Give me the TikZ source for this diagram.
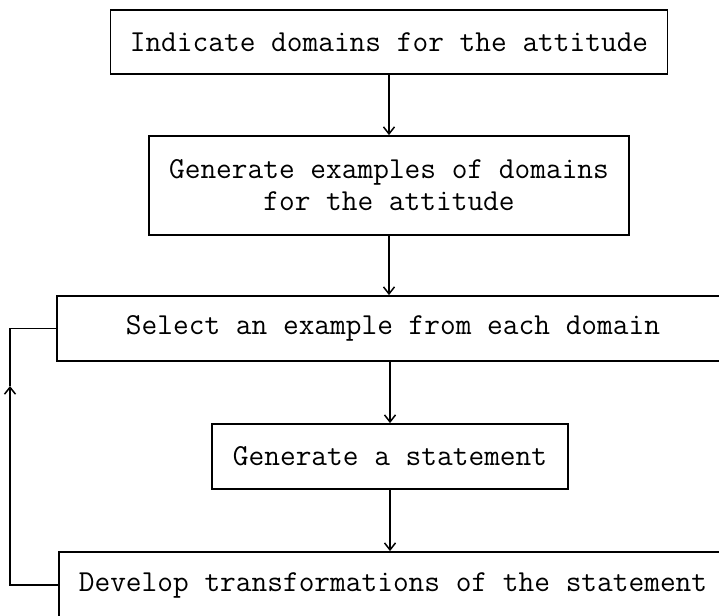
\documentclass[tikz,border=0pt]{standalone}
\usetikzlibrary{arrows.meta}
\begin{document}
\begin{tikzpicture}[x=1pt,y=1pt,
  box/.style={draw, line width=1.8pt, inner sep=0pt, align=center,
    font=\fontsize{30.5}{32}\selectfont\ttfamily},
  arr/.style={line width=1.8pt, -{Straight Barb[length=7pt,width=11pt,line width=1.5pt]}},
  wire/.style={line width=1.8pt}]
\useasboundingbox (0,0) rectangle (719,-615);
\clip (0,0) rectangle (719,-615);
\node[box, minimum width=557, minimum height=64] (b1) at (389,-42) {Indicate domains for the attitude};
\node[box, minimum width=480, minimum height=99] (b2) at (389,-185.5) {Generate examples of domains\\for the attitude};
\node[box, minimum width=672, minimum height=65] (b3) at (393,-328.5) {Select an example from each domain};
\node[box, minimum width=356, minimum height=65] (b4) at (390,-456.5) {Generate a statement};
\node[box, minimum width=668, minimum height=66] (b5) at (393,-585) {Develop transformations of the statement};
\draw[arr] (b1.south) -- (b1.south |- b2.north);
\draw[arr] (b2.south) -- (b2.south |- b3.north);
\draw[arr] (b4.north |- b3.south) -- (b4.north);
\draw[arr] (b4.south) -- (b4.south |- b5.north);
\coordinate (lb) at (10,-585);
\coordinate (la) at (10,-386);
\coordinate (lt) at (10,-328.5);
\draw[arr] (b5.west) -- (lb) -- (la);
\draw[wire] (la) -- (lt) -- (b3.west);
\end{tikzpicture}
\end{document}
